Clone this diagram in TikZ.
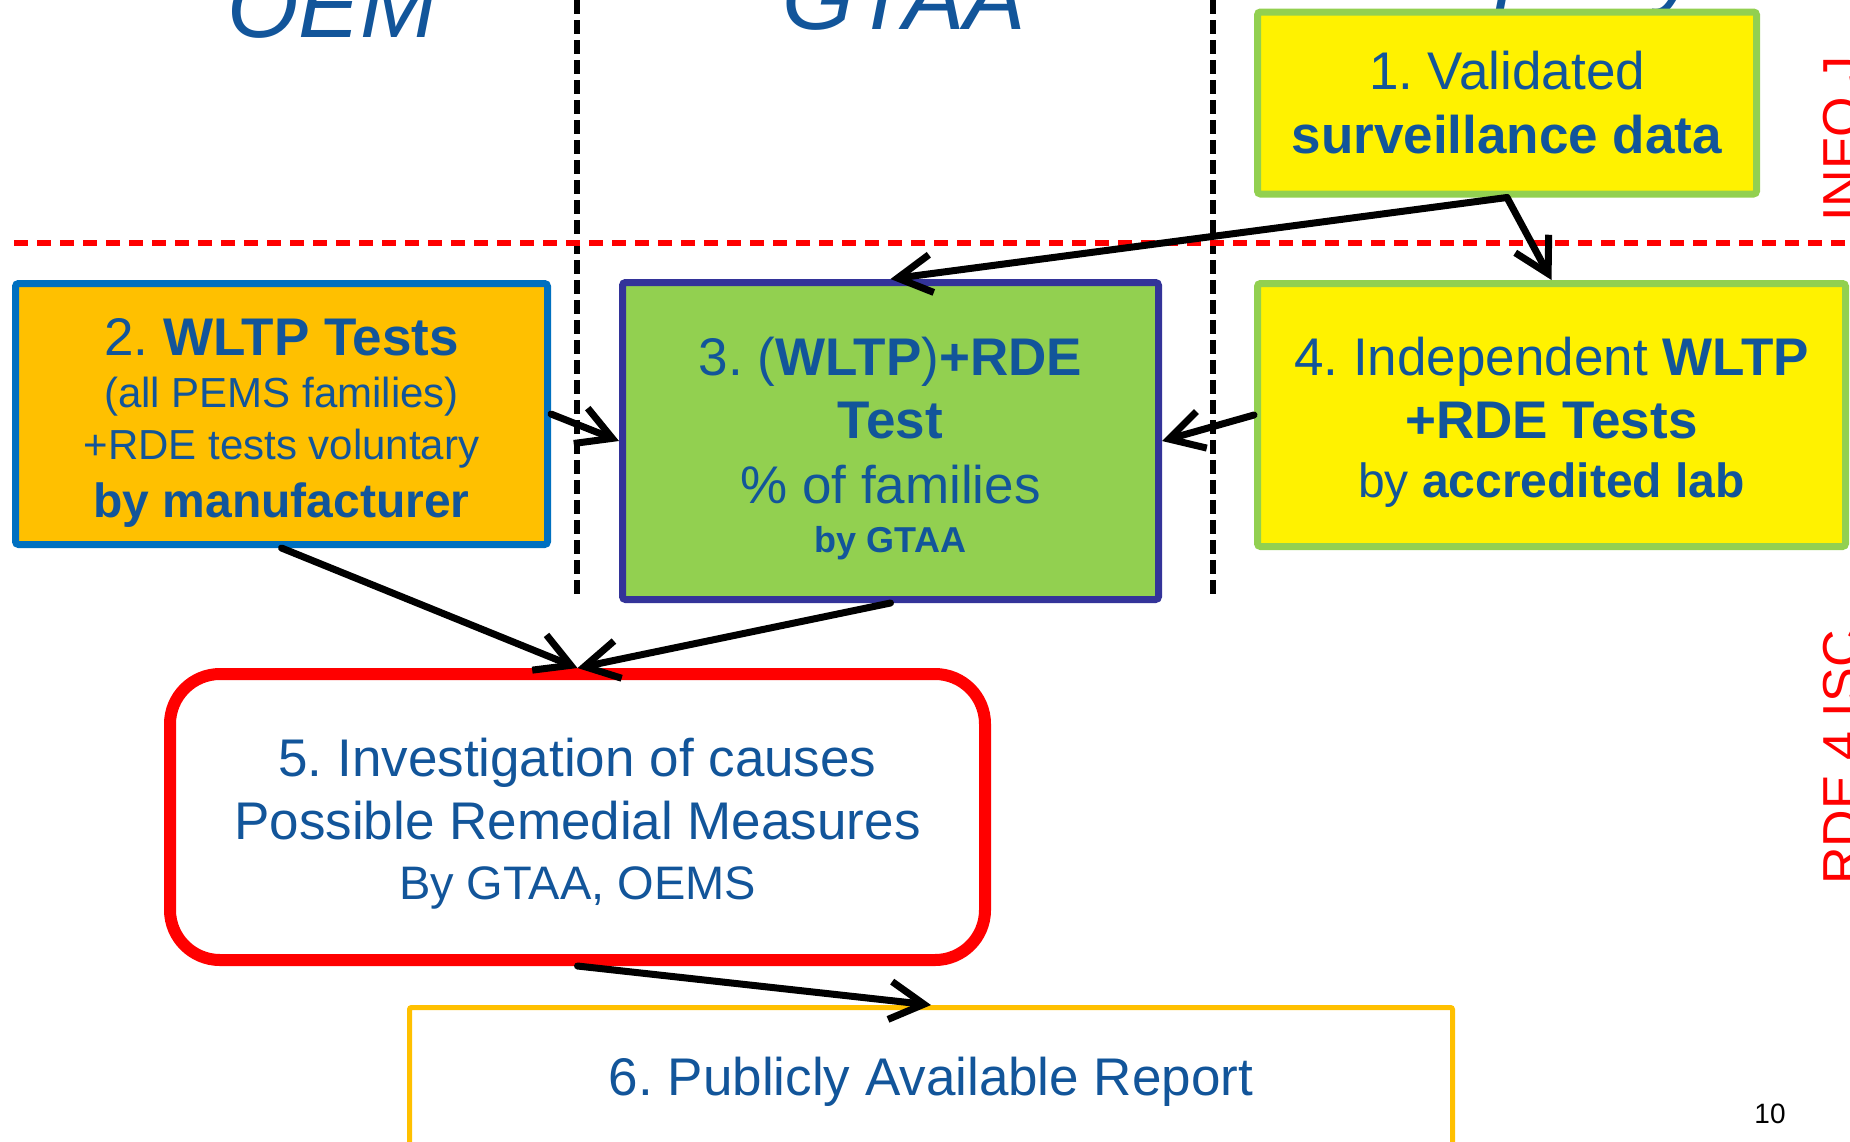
\documentclass[tikz,border=0pt]{standalone}
\usepackage{fontspec}
\setmainfont{Liberation Sans}
\frenchspacing
\usetikzlibrary{arrows.meta}
\definecolor{txtBlue}{HTML}{12559A}
\definecolor{lineGreen}{HTML}{92D050}
\definecolor{boxOrange}{HTML}{FFC000}
\definecolor{lineBlue}{HTML}{0070C0}
\definecolor{lineIndigo}{HTML}{333399}
\tikzstyle{flowBox}=[draw,rectangle,align=center,text=txtBlue,inner sep=0pt,line width=3.5pt,rounded corners=1.5pt,font=\fontsize{26.5}{31.5}\selectfont]
\tikzstyle{flowArrow}=[-{Straight Barb[length=17pt,width=19pt]}, line width=3.5pt, line cap=round]
\tikzstyle{laneLine}=[line width=2.75pt, dash pattern=on 7pt off 3pt]
\tikzstyle{laneTitle}=[text=txtBlue,font=\fontsize{46}{46}\selectfont\itshape,anchor=base,inner sep=0pt]
\tikzstyle{sideNote}=[text=red,font=\fontsize{26}{26}\selectfont,rotate=90,anchor=base west,inner sep=0pt]

\begin{document}
\begin{tikzpicture}[x=0.5pt, y=-0.5pt]
	\useasboundingbox (0,0) rectangle (1850,1141);
	\clip (0,0) rectangle (1850,1141);

	% lanes
	\node[laneTitle] (tOem) at (332, 37) {OEM};
	\node[laneTitle] (tGtaa) at (904, 29) {GTAA};
	\node[laneTitle] (tThird) at (1521, -4) {3rd party};

	\draw[laneLine] (577, 0) -- (577, 600);
	\draw[laneLine] (1213, 0) -- (1213, 600);
	\draw[red, line width=2.75pt, dash pattern=on 7pt off 4.5pt] (14, 243) -- (1850, 243);

	\node[sideNote] (nInfo) at (1859, 222) {INFO J};
	\node[sideNote] (nIsc) at (1859, 885) {RDE 4 ISC};

	% boxes
	\node[flowBox, fill=yellow, draw=lineGreen, minimum width=249.5pt, minimum height=91pt,
		font=\fontsize{26.5}{32}\selectfont] (b1) at (1507, 103)
		{1. Validated\\\textbf{surveillance data}};

	\node[flowBox, fill=boxOrange, draw=lineBlue, minimum width=266pt, minimum height=130.5pt,
		font=\fontsize{26.5}{26}\selectfont] (b2) at (281.5, 414)
		{\rule{0pt}{27pt}2. \textbf{WLTP Tests}\\{\fontsize{21}{21}\selectfont (all PEMS families)}\\{\fontsize{21}{21}\selectfont +RDE tests voluntary}\\[3pt]{\fontsize{24}{24}\selectfont\bfseries by manufacturer}};

	\node[flowBox, fill=lineGreen, draw=lineIndigo, minimum width=268pt, minimum height=158.5pt] (b3) at (890.5, 441)
		{\rule{0pt}{27pt}3. (\textbf{WLTP})\textbf{+RDE}\\\textbf{Test}\\[1pt]\% of families\\[-7pt]{\fontsize{18}{18}\selectfont\bfseries by GTAA}};

	\node[flowBox, fill=yellow, draw=lineGreen, minimum width=294pt, minimum height=131.5pt] (b4) at (1551.5, 415)
		{\rule{0pt}{26pt}4. Independent \textbf{WLTP}\\\textbf{+RDE Tests}\\[-2pt]{\fontsize{24}{24}\selectfont by \textbf{accredited lab}}};

	\node[flowBox, fill=white, draw=red, line width=6pt, rounded corners=25pt, minimum width=407.5pt, minimum height=143pt] (b5) at (577.5, 817)
		{\rule{0pt}{26pt}5. Investigation of causes\\Possible Remedial Measures\\[-1.5pt]{\fontsize{23.5}{23.5}\selectfont By GTAA, OEMS}};

	\node[flowBox, fill=white, draw=boxOrange, line width=2.5pt, rounded corners=1pt, minimum width=521.5pt, minimum height=74.5pt] (b6) at (931, 1082)
		{6. Publicly Available Report};

	\node[font=\fontsize{14}{14}\selectfont, anchor=base, inner sep=0pt] (pageNo) at (1770, 1123) {10};

	% flow
	\draw[flowArrow] (b1.south) -- (b3.north);
	\draw[flowArrow] (b1.south) -- (b4.north);
	\draw[flowArrow] (b2.east) -- (b3.west);
	\draw[flowArrow] (b4.west) -- (b3.east);
	\draw[flowArrow] (b2.south) -- (b5.north);
	\draw[flowArrow] (b3.south) -- (b5.north);
	\draw[flowArrow] (b5.south) -- (b6.north);
\end{tikzpicture}
\end{document}
